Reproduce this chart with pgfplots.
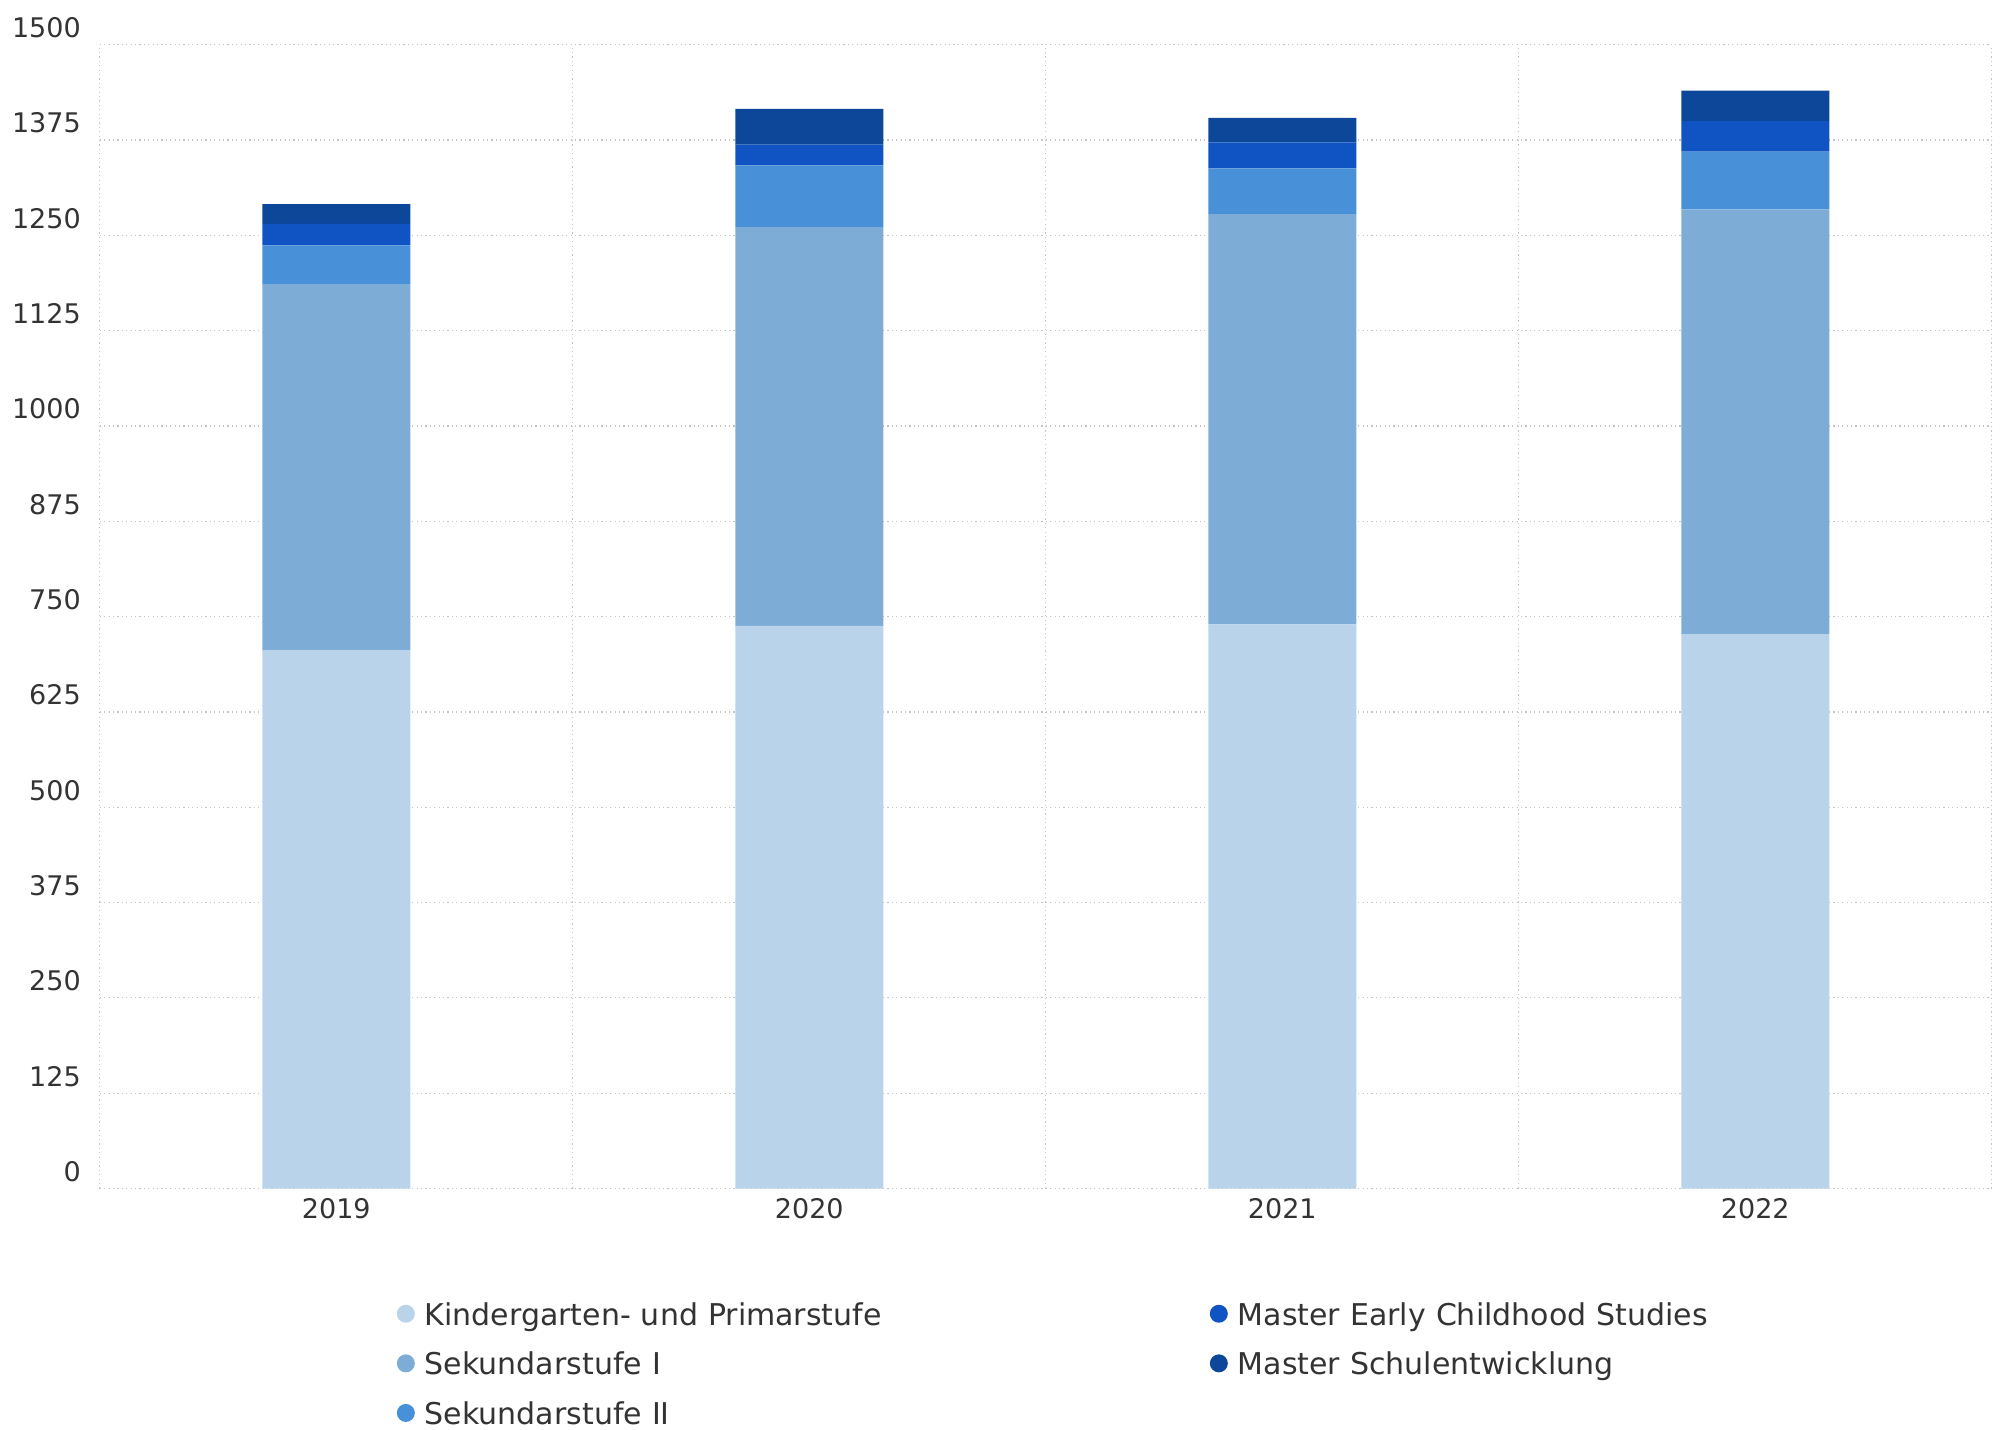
\documentclass[border=0pt]{standalone}
\usepackage{pgfplots}
\pgfplotsset{compat=1.18}
\usepackage{fontspec}
\setmainfont{DejaVu Sans}
\definecolor{cK}{HTML}{B9D3EA}
\definecolor{cS1}{HTML}{7DADD7}
\definecolor{cS2}{HTML}{4890D7}
\definecolor{cMEC}{HTML}{1053C2}
\definecolor{cMS}{HTML}{0C479A}
\definecolor{txt}{HTML}{333333}
\definecolor{gridc}{HTML}{C4C4C4}
\begin{document}
\begin{tikzpicture}
\begin{axis}[
  at={(0,0)}, anchor=south west,
  scale only axis, width=946pt, height=571.85pt,
  ybar stacked, bar width=74pt,
  xmin=-0.5, xmax=3.5, ymin=0, ymax=1500,
  xtick={0,1,2,3}, xticklabels={2019,2020,2021,2022},
  minor xtick={-0.5,0.5,1.5,2.5,3.5},
  ytick={0,125,...,1500},
  xminorgrids=true, ymajorgrids=true, xmajorgrids=false,
  grid style={draw=gridc, line width=0.6pt, dash pattern=on 0.6pt off 1.6pt},
  minor grid style={draw=gridc, line width=0.6pt, dash pattern=on 0.6pt off 1.6pt},
  axis line style={draw=none},
  major tick style={draw=none}, minor tick style={draw=none},
  /pgf/number format/assume math mode=true,
  /pgf/number format/1000 sep={},
  tick label style={font=\fontsize{13.5}{16}\selectfont, text=txt},
  yticklabel style={xshift=-6pt, yshift=8.5pt},
  xticklabel style={yshift=-1.5pt},
  legend columns=3, transpose legend,
  legend style={at={(0.157,-0.1004)}, anchor=north west, draw=none, fill=none,
    inner sep=0pt, outer sep=0pt, row sep=10.8pt,
    nodes={inner sep=0pt, text height=11pt, text depth=3pt, text width=392.5pt, align=left,
      font=\fontsize{15}{18}\selectfont, text=txt},
    /tikz/every odd column/.append style={column sep=5pt}},
  legend cell align=left,
  legend image code/.code={\fill[#1, draw=none] (4.5pt,1.8pt) circle (4.5pt);},
]
\addplot[fill=cK, draw=none] coordinates {(0,706) (1,738) (2,740) (3,727)};
\addplot[fill=cS1, draw=none] coordinates {(0,480) (1,523) (2,538) (3,557)};
\addplot[fill=cS2, draw=none] coordinates {(0,51) (1,81) (2,60) (3,76)};
\addplot[fill=cMEC, draw=none] coordinates {(0,28) (1,27) (2,34) (3,40)};
\addplot[fill=cMS, draw=none] coordinates {(0,26) (1,47) (2,32) (3,40)};
\legend{Kindergarten- und Primarstufe, Sekundarstufe I, Sekundarstufe II, Master Early Childhood Studies, Master Schulentwicklung}
\end{axis}
\pgfresetboundingbox
\path (-49.9pt,-120.25pt) rectangle (953.1pt,594.25pt);
\end{tikzpicture}
\end{document}
